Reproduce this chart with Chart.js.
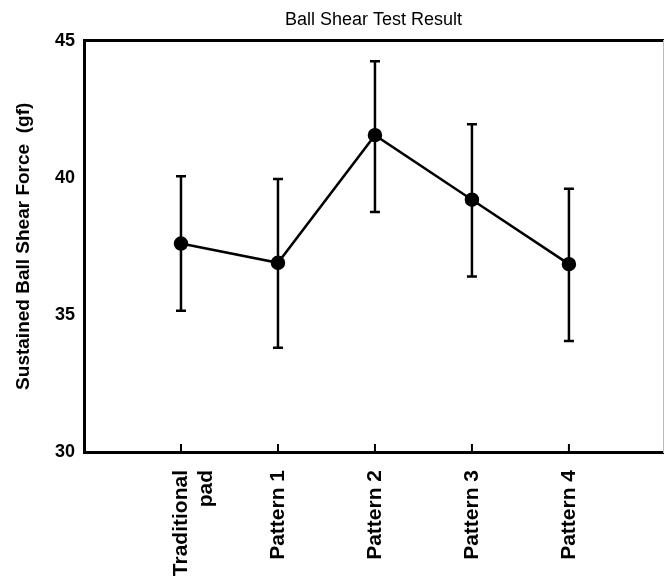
<!DOCTYPE html>
<html>
<head>
<meta charset="utf-8">
<script src="https://cdn.jsdelivr.net/npm/chart.js@4/dist/chart.umd.min.js"></script>
<style>
html,body{margin:0;padding:0;background:#fff;overflow:hidden;}
#wrap{width:664px;height:583px;position:relative;}
</style>
</head>
<body>
<div id="wrap"><canvas id="c"></canvas></div>
<script>
// ---- data ----
const categories = [["Traditional", "pad"], "Pattern 1", "Pattern 2", "Pattern 3", "Pattern 4"];
const meanForce = [37.6, 36.9, 41.55, 39.2, 36.85];
const upperForce = [40.05, 39.95, 44.25, 41.95, 39.6];
const lowerForce = [35.15, 33.8, 38.75, 36.4, 34.05];
const yTicks = [30, 35, 40, 45];

const FONT = "'Liberation Sans', Arial, Helvetica, sans-serif";

const errorBars = {
  id: 'errorBars',
  beforeDatasetsDraw(chart) {
    const {ctx, scales: {x, y}} = chart;
    ctx.save();
    ctx.strokeStyle = '#000';
    ctx.lineCap = 'butt';
    meanForce.forEach((m, i) => {
      const px = x.getPixelForValue(i);
      const top = y.getPixelForValue(upperForce[i]);
      const bot = y.getPixelForValue(lowerForce[i]);
      ctx.lineWidth = 2.5;
      ctx.beginPath();
      ctx.moveTo(px, top); ctx.lineTo(px, bot);
      ctx.stroke();
      ctx.beginPath();
      ctx.moveTo(px - 5, top); ctx.lineTo(px + 5, top);
      ctx.moveTo(px - 5, bot); ctx.lineTo(px + 5, bot);
      ctx.stroke();
    });
    ctx.restore();
  },
  afterDraw(chart) {
    const {ctx, scales: {x}, chartArea} = chart;
    ctx.save();
    ctx.strokeStyle = '#000';
    ctx.lineWidth = 2;
    categories.forEach((c, i) => {
      const px = x.getPixelForValue(i);
      ctx.beginPath();
      ctx.moveTo(px, chartArea.bottom);
      ctx.lineTo(px, chartArea.bottom - 8);
      ctx.stroke();
    });
    ctx.restore();
  }
};

const noPad = (s) => { s.paddingLeft = 0; s.paddingRight = 0; };

new Chart(document.getElementById('c'), {
  type: 'line',
  data: {
    datasets: [{
      data: meanForce.map((v, i) => ({x: i, y: v})),
      borderColor: '#000',
      backgroundColor: '#000',
      borderWidth: 2.5,
      pointRadius: 6,
      pointBackgroundColor: '#000',
      pointBorderColor: '#000',
      tension: 0,
      fill: false
    }]
  },
  options: {
    responsive: true,
    maintainAspectRatio: false,
    animation: false,
    layout: {autoPadding: false, padding: {left: 0, right: 0, top: 0, bottom: 0}},
    plugins: {
      legend: {display: false},
      tooltip: {enabled: false},
      title: {
        display: true,
        text: 'Ball Shear Test Result',
        color: '#000',
        fullSize: false,
        font: {family: FONT, size: 18, weight: 'normal'},
        padding: {top: 9, bottom: 10}
      }
    },
    scales: {
      x: {
        type: 'linear',
        position: 'bottom',
        min: -1,
        max: 4.97,
        afterBuildTicks: (s) => { s.ticks = categories.map((c, i) => ({value: i})); },
        afterFit: (s) => { s.height = 131; noPad(s); },
        grid: {display: false, drawTicks: false},
        border: {display: true, color: '#000', width: 3},
        ticks: {
          autoSkip: false,
          minRotation: 90,
          maxRotation: 90,
          padding: 18,
          color: '#000',
          font: {family: FONT, size: 21, weight: 'bold'},
          callback: (v) => categories[v]
        }
      },
      x2: {
        type: 'linear',
        position: 'top',
        min: -1,
        max: 4.97,
        afterFit: (s) => { s.height = 0; noPad(s); },
        grid: {display: false, drawTicks: false},
        border: {display: true, color: '#000', width: 3},
        ticks: {display: false}
      },
      y: {
        type: 'linear',
        position: 'left',
        min: 30,
        max: 45,
        afterBuildTicks: (s) => { s.ticks = yTicks.map(v => ({value: v})); },
        afterFit: (s) => { s.width = 84; },
        grid: {display: false, drawTicks: false},
        border: {display: true, color: '#000', width: 3},
        ticks: {
          padding: 9,
          color: '#000',
          font: {family: FONT, size: 18, weight: 'bold'}
        },
        title: {
          display: true,
          text: 'Sustained Ball Shear Force  (gf)',
          color: '#000',
          font: {family: FONT, size: 19, weight: 'bold'},
          padding: {top: 12, bottom: 0}
        }
      },
      y2: {
        type: 'linear',
        position: 'right',
        min: 30,
        max: 45,
        afterFit: (s) => { s.width = 1; },
        grid: {display: false, drawTicks: false},
        border: {display: true, color: '#bbb', width: 1},
        ticks: {display: false}
      }
    }
  },
  plugins: [errorBars]
});
</script>
</body>
</html>
